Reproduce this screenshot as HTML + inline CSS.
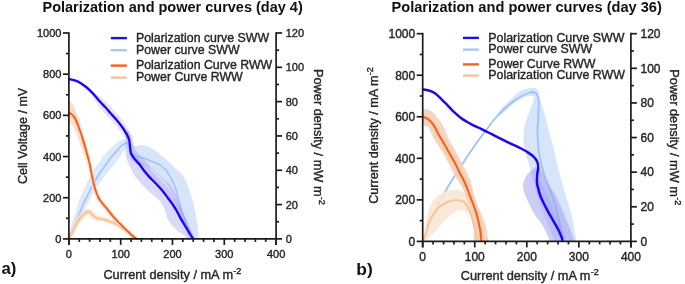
<!DOCTYPE html>
<html><head><meta charset="utf-8"><style>
html,body{margin:0;padding:0;background:#fff;}
svg{display:block;font-family:'Liberation Sans', sans-serif;filter:blur(0.35px);}
text{stroke:#262626;stroke-width:0.38px;}
text[font-weight]{stroke:none;}
</style></head><body>
<svg width="685" height="284" viewBox="0 0 685 284">
<rect width="685" height="284" fill="#fff"/>
<defs><clipPath id="cl"><rect x="67.9" y="30" width="209" height="209.7"/></clipPath><clipPath id="cr"><rect x="421.7" y="30" width="210" height="212.2"/></clipPath></defs>
<g clip-path="url(#cl)"><path d="M114.00,147.00 C115.07,146.08 118.53,142.67 120.40,141.50 C122.27,140.33 123.93,140.08 125.20,140.00 C126.47,139.92 127.20,140.33 128.00,141.00 C128.80,141.67 129.13,143.23 130.00,144.00 C130.87,144.77 132.15,145.27 133.20,145.60 C134.25,145.93 135.07,146.05 136.30,146.00 C137.53,145.95 139.02,145.33 140.60,145.30 C142.18,145.27 144.05,145.37 145.80,145.80 C147.55,146.23 149.33,146.93 151.10,147.90 C152.87,148.87 154.63,150.28 156.40,151.60 C158.17,152.92 159.95,154.38 161.70,155.80 C163.45,157.22 165.42,158.78 166.90,160.10 C168.38,161.42 169.12,162.30 170.60,163.70 C172.08,165.10 174.05,166.92 175.80,168.50 C177.55,170.08 179.68,171.62 181.10,173.20 C182.52,174.78 183.25,176.15 184.30,178.00 C185.35,179.85 186.35,181.67 187.40,184.30 C188.45,186.93 189.53,190.28 190.60,193.80 C191.67,197.32 192.73,200.70 193.80,205.40 C194.87,210.10 196.13,216.65 197.00,222.00 C197.87,227.35 198.67,234.68 199.00,237.50 C199.33,240.32 199.00,238.67 199.00,238.90 L188.00,238.90 C187.33,236.75 185.50,230.48 184.00,226.00 C182.50,221.52 180.67,216.67 179.00,212.00 C177.33,207.33 175.83,202.33 174.00,198.00 C172.17,193.67 170.17,189.50 168.00,186.00 C165.83,182.50 163.50,179.67 161.00,177.00 C158.50,174.33 155.67,171.83 153.00,170.00 C150.33,168.17 147.50,167.00 145.00,166.00 C142.50,165.00 140.17,164.83 138.00,164.00 C135.83,163.17 133.67,163.00 132.00,161.00 C130.33,159.00 128.88,154.17 128.00,152.00 C127.12,149.83 127.97,148.00 126.70,148.00 C125.43,148.00 122.52,150.67 120.40,152.00 C118.28,153.33 115.07,155.33 114.00,156.00 Z" fill="#d7e5fa" fill-opacity="1.0" stroke="none"/>
<path d="M68.74,237.50 C69.24,235.30 70.70,228.24 71.74,224.32 C72.78,220.40 73.98,217.38 74.99,214.00 C76.00,210.61 76.72,207.17 77.81,204.01 C78.91,200.86 80.34,197.95 81.56,195.08 C82.79,192.20 83.96,189.45 85.17,186.75 C86.38,184.05 87.62,181.36 88.80,178.87 C89.99,176.37 91.02,173.94 92.26,171.79 C93.51,169.64 94.94,167.85 96.29,165.95 C97.64,164.05 98.98,162.25 100.34,160.38 C101.70,158.52 102.99,156.51 104.43,154.76 C105.87,153.01 107.59,151.31 108.97,149.88 C110.35,148.46 111.43,147.41 112.72,146.21 C114.00,145.02 115.25,143.82 116.69,142.74 C118.14,141.65 119.89,140.37 121.40,139.73 C122.91,139.09 125.01,139.05 125.74,138.92 L128.86,146.28 C128.49,146.61 127.39,147.51 126.60,148.27 C125.81,149.03 124.92,149.88 124.11,150.86 C123.29,151.85 122.53,152.98 121.68,154.19 C120.84,155.39 120.12,156.66 119.03,158.12 C117.95,159.57 116.47,161.24 115.17,162.94 C113.87,164.64 112.64,166.57 111.26,168.32 C109.88,170.08 108.29,171.79 106.89,173.47 C105.50,175.15 104.23,176.61 102.86,178.41 C101.50,180.22 100.14,182.14 98.71,184.31 C97.27,186.48 95.70,188.95 94.23,191.43 C92.77,193.90 91.38,196.53 89.91,199.17 C88.44,201.82 86.86,204.42 85.43,207.31 C83.99,210.21 82.81,213.39 81.30,216.55 C79.78,219.71 78.28,222.73 76.34,226.29 C74.40,229.84 70.77,235.96 69.66,237.90 Z" fill="#dce8fb" fill-opacity="1.0" stroke="none"/>
<path d="M69.20,237.70 C70.08,235.67 72.92,229.20 74.50,225.50 C76.08,221.80 77.38,218.75 78.70,215.50 C80.02,212.25 81.10,209.00 82.40,206.00 C83.70,203.00 85.15,200.25 86.50,197.50 C87.85,194.75 89.17,192.08 90.50,189.50 C91.83,186.92 93.22,184.33 94.50,182.00 C95.78,179.67 96.95,177.50 98.20,175.50 C99.45,173.50 100.70,171.83 102.00,170.00 C103.30,168.17 104.67,166.33 106.00,164.50 C107.33,162.67 108.67,160.75 110.00,159.00 C111.33,157.25 112.80,155.47 114.00,154.00 C115.20,152.53 116.13,151.40 117.20,150.20 C118.27,149.00 119.27,147.83 120.40,146.80 C121.53,145.77 122.85,144.70 124.00,144.00 C125.15,143.30 126.38,142.18 127.30,142.60 C128.22,143.02 128.80,144.93 129.50,146.50 C130.20,148.07 130.53,150.42 131.50,152.00 C132.47,153.58 133.78,155.10 135.30,156.00 C136.82,156.90 138.85,156.90 140.60,157.40 C142.35,157.90 144.05,158.38 145.80,159.00 C147.55,159.62 149.33,160.40 151.10,161.10 C152.87,161.80 154.72,162.38 156.40,163.20 C158.08,164.02 159.90,165.12 161.20,166.00 C162.50,166.88 163.17,167.50 164.20,168.50 C165.23,169.50 166.33,170.52 167.40,172.00 C168.47,173.48 169.75,175.90 170.60,177.40 C171.45,178.90 171.85,179.73 172.50,181.00 C173.15,182.27 173.85,183.38 174.50,185.00 C175.15,186.62 175.83,188.70 176.40,190.70 C176.97,192.70 177.38,194.90 177.90,197.00 C178.42,199.10 178.78,200.65 179.50,203.30 C180.22,205.95 180.87,209.25 182.20,212.90 C183.53,216.55 185.73,221.35 187.50,225.20 C189.27,229.05 191.80,233.72 192.80,236.00 C193.80,238.28 193.38,238.42 193.50,238.90" fill="none" stroke="#9fc0f8" stroke-width="1.5" stroke-linejoin="round" stroke-linecap="round"/>
<path d="M91.77,91.47 C92.79,92.12 95.97,94.05 97.88,95.36 C99.80,96.66 101.41,97.78 103.25,99.30 C105.09,100.82 107.10,102.60 108.92,104.47 C110.74,106.34 112.39,108.50 114.17,110.52 C115.95,112.54 118.00,114.61 119.61,116.57 C121.23,118.53 122.47,120.22 123.86,122.28 C125.26,124.35 126.96,126.95 128.00,128.95 C129.04,130.95 129.59,132.57 130.10,134.28 C130.60,136.00 130.89,138.42 131.05,139.24 L127.35,140.76 C126.91,140.12 125.66,138.20 124.70,136.92 C123.75,135.63 122.86,134.65 121.60,133.05 C120.34,131.45 118.61,129.08 117.14,127.32 C115.67,125.55 114.40,124.24 112.79,122.43 C111.17,120.63 109.18,118.46 107.43,116.48 C105.68,114.50 103.96,112.50 102.28,110.53 C100.60,108.57 98.71,106.68 97.35,104.70 C95.99,102.72 95.17,100.74 94.12,98.64 C93.06,96.55 91.54,93.22 91.03,92.13 Z" fill="#e4e5fd" fill-opacity="1.0" stroke="none"/>
<path d="M129.00,131.00 C129.50,131.83 131.25,134.00 132.00,136.00 C132.75,138.00 133.00,140.83 133.50,143.00 C134.00,145.17 133.92,147.00 135.00,149.00 C136.08,151.00 138.00,152.67 140.00,155.00 C142.00,157.33 144.67,160.50 147.00,163.00 C149.33,165.50 151.83,168.00 154.00,170.00 C156.17,172.00 158.17,173.33 160.00,175.00 C161.83,176.67 163.33,178.50 165.00,180.00 C166.67,181.50 168.50,182.33 170.00,184.00 C171.50,185.67 172.83,187.83 174.00,190.00 C175.17,192.17 175.83,194.33 177.00,197.00 C178.17,199.67 179.50,202.50 181.00,206.00 C182.50,209.50 184.50,214.33 186.00,218.00 C187.50,221.67 188.67,224.52 190.00,228.00 C191.33,231.48 193.33,237.08 194.00,238.90 L189.00,238.90 C187.83,238.08 184.33,235.70 182.00,234.00 C179.67,232.30 177.30,231.05 175.00,228.70 C172.70,226.35 169.93,223.12 168.20,219.90 C166.47,216.68 166.07,212.62 164.60,209.40 C163.13,206.18 161.65,203.25 159.40,200.60 C157.15,197.95 153.37,195.57 151.10,193.50 C148.83,191.43 147.55,189.95 145.80,188.20 C144.05,186.45 142.35,184.93 140.60,183.00 C138.85,181.07 137.07,179.27 135.30,176.60 C133.53,173.93 131.47,170.10 130.00,167.00 C128.53,163.90 127.25,160.83 126.50,158.00 C125.75,155.17 125.67,152.50 125.50,150.00 C125.33,147.50 125.58,145.17 125.50,143.00 C125.42,140.83 124.92,138.83 125.00,137.00 C125.08,135.17 125.83,132.83 126.00,132.00 Z" fill="#9c9cf2" fill-opacity="0.38" stroke="none"/>
<path d="M136.00,157.00 C137.00,157.83 140.00,160.25 142.00,162.00 C144.00,163.75 145.83,165.42 148.00,167.50 C150.17,169.58 152.67,172.17 155.00,174.50 C157.33,176.83 159.83,179.17 162.00,181.50 C164.17,183.83 166.17,186.17 168.00,188.50 C169.83,190.83 171.42,193.08 173.00,195.50 C174.58,197.92 176.08,200.42 177.50,203.00 C178.92,205.58 180.25,208.17 181.50,211.00 C182.75,213.83 183.83,217.00 185.00,220.00 C186.17,223.00 187.17,225.85 188.50,229.00 C189.83,232.15 192.25,237.25 193.00,238.90 L192.80,238.90 C191.67,237.00 188.05,230.90 186.00,227.50 C183.95,224.10 182.08,221.28 180.50,218.50 C178.92,215.72 177.80,213.08 176.50,210.80 C175.20,208.52 174.07,206.80 172.70,204.80 C171.33,202.80 169.72,200.72 168.30,198.80 C166.88,196.88 165.65,195.13 164.20,193.30 C162.75,191.47 161.25,189.65 159.60,187.80 C157.95,185.95 156.07,184.00 154.30,182.20 C152.53,180.40 150.77,178.93 149.00,177.00 C147.23,175.07 145.27,172.63 143.70,170.60 C142.13,168.57 141.05,166.57 139.60,164.80 C138.15,163.03 135.77,160.80 135.00,160.00 Z" fill="#9c9cf2" fill-opacity="0.3" stroke="none"/>
<path d="M67.50,101.50 C67.92,101.55 69.18,101.45 70.00,101.80 C70.82,102.15 71.70,102.82 72.40,103.60 C73.10,104.38 73.63,105.30 74.20,106.50 C74.77,107.70 75.28,109.30 75.80,110.80 C76.32,112.30 76.80,113.92 77.30,115.50 C77.80,117.08 78.30,118.63 78.80,120.30 C79.30,121.97 79.78,123.78 80.30,125.50 C80.82,127.22 81.37,129.02 81.90,130.60 C82.43,132.18 82.98,133.52 83.50,135.00 C84.02,136.48 84.50,138.00 85.00,139.50 C85.50,141.00 86.03,142.50 86.50,144.00 C86.97,145.50 87.38,147.00 87.80,148.50 C88.22,150.00 88.60,151.42 89.00,153.00 C89.40,154.58 89.82,156.33 90.20,158.00 C90.58,159.67 90.93,161.25 91.30,163.00 C91.67,164.75 92.03,166.67 92.40,168.50 C92.77,170.33 93.13,172.17 93.50,174.00 C93.87,175.83 94.22,177.67 94.60,179.50 C94.98,181.33 95.33,183.25 95.80,185.00 C96.27,186.75 96.78,188.33 97.40,190.00 C98.02,191.67 98.68,193.42 99.50,195.00 C100.32,196.58 101.30,198.08 102.30,199.50 C103.30,200.92 104.38,202.17 105.50,203.50 C106.62,204.83 107.92,206.08 109.00,207.50 C110.08,208.92 110.50,210.00 112.00,212.00 C113.50,214.00 115.92,217.00 118.00,219.50 C120.08,222.00 122.33,224.58 124.50,227.00 C126.67,229.42 129.00,232.02 131.00,234.00 C133.00,235.98 135.58,238.08 136.50,238.90 L135.00,239.50 C134.33,239.25 132.75,239.17 131.00,238.00 C129.25,236.83 126.67,234.42 124.50,232.50 C122.33,230.58 120.17,228.83 118.00,226.50 C115.83,224.17 113.67,221.17 111.50,218.50 C109.33,215.83 106.75,212.58 105.00,210.50 C103.25,208.42 102.25,207.58 101.00,206.00 C99.75,204.42 98.58,202.83 97.50,201.00 C96.42,199.17 95.38,197.17 94.50,195.00 C93.62,192.83 92.78,189.83 92.20,188.00 C91.62,186.17 91.38,185.92 91.00,184.00 C90.62,182.08 90.37,179.08 89.90,176.50 C89.43,173.92 88.82,171.00 88.20,168.50 C87.58,166.00 86.98,163.92 86.20,161.50 C85.42,159.08 84.53,156.92 83.50,154.00 C82.47,151.08 81.08,147.08 80.00,144.00 C78.92,140.92 78.08,138.33 77.00,135.50 C75.92,132.67 74.42,128.92 73.50,127.00 C72.58,125.08 72.08,124.83 71.50,124.00 C70.92,123.17 70.67,122.50 70.00,122.00 C69.33,121.50 67.92,121.17 67.50,121.00 Z" fill="#f9dfcc" fill-opacity="0.9" stroke="none"/>
<path d="M71.06,109.36 C71.50,109.60 72.83,110.08 73.72,110.82 C74.61,111.55 75.56,112.58 76.39,113.76 C77.23,114.94 78.03,116.29 78.72,117.91 C79.40,119.52 79.76,121.04 80.50,123.42 C81.24,125.80 82.35,129.27 83.17,132.19 C83.99,135.11 84.60,137.61 85.42,140.93 C86.23,144.25 87.34,148.96 88.04,152.09 C88.75,155.23 89.39,158.46 89.66,159.73 L87.74,160.27 C87.31,159.04 86.18,155.94 85.16,152.91 C84.13,149.87 82.66,145.27 81.58,142.07 C80.51,138.87 79.75,136.49 78.72,133.71 C77.68,130.93 76.33,127.54 75.37,125.40 C74.40,123.26 73.65,122.11 72.93,120.87 C72.21,119.63 71.61,118.69 71.04,117.95 C70.46,117.20 70.02,116.78 69.48,116.39 C68.94,115.99 68.09,115.70 67.81,115.56 Z" fill="#f4c6a6" fill-opacity="0.35" stroke="none"/>
<path d="M68.75,238.47 C69.06,237.32 69.82,233.93 70.60,231.54 C71.37,229.14 72.27,226.53 73.40,224.11 C74.54,221.68 75.99,219.09 77.39,217.01 C78.80,214.93 80.34,213.00 81.85,211.63 C83.36,210.26 84.86,209.13 86.46,208.77 C88.05,208.41 90.08,208.81 91.42,209.47 C92.76,210.14 93.45,211.76 94.50,212.77 C95.56,213.77 96.69,214.91 97.74,215.49 C98.79,216.07 99.29,215.88 100.79,216.27 C102.28,216.65 104.57,217.12 106.71,217.80 C108.85,218.49 111.39,219.34 113.61,220.39 C115.83,221.43 117.88,222.72 120.02,224.08 C122.15,225.43 124.35,226.94 126.42,228.52 C128.48,230.09 130.51,231.87 132.41,233.53 C134.31,235.20 136.90,237.67 137.80,238.50 L137.20,239.30 C136.16,238.66 133.12,236.77 130.99,235.47 C128.85,234.16 126.55,232.81 124.38,231.48 C122.22,230.16 120.08,228.67 117.98,227.52 C115.88,226.38 113.91,225.43 111.79,224.61 C109.67,223.79 107.32,223.14 105.29,222.60 C103.26,222.05 101.29,221.68 99.61,221.33 C97.94,220.99 96.78,221.19 95.26,220.51 C93.74,219.83 91.68,218.23 90.50,217.23 C89.32,216.24 88.51,214.93 88.18,214.53 C87.86,214.13 88.88,214.52 88.54,214.83 C88.20,215.13 87.21,215.41 86.15,216.37 C85.10,217.33 83.60,218.90 82.21,220.59 C80.81,222.28 79.13,224.38 77.80,226.49 C76.46,228.61 75.56,231.19 74.20,233.26 C72.85,235.33 70.41,237.98 69.65,238.93 Z" fill="#f8e2cc" fill-opacity="0.85" stroke="none"/>
<path d="M69.20,238.70 C69.73,237.65 71.33,234.63 72.40,232.40 C73.47,230.17 74.37,227.57 75.60,225.30 C76.83,223.03 78.40,220.68 79.80,218.80 C81.20,216.92 82.72,215.17 84.00,214.00 C85.28,212.83 86.53,212.13 87.50,211.80 C88.47,211.47 88.97,211.47 89.80,212.00 C90.63,212.53 91.38,214.00 92.50,215.00 C93.62,216.00 95.22,217.37 96.50,218.00 C97.78,218.63 98.62,218.43 100.20,218.80 C101.78,219.17 103.92,219.58 106.00,220.20 C108.08,220.82 110.53,221.57 112.70,222.50 C114.87,223.43 116.88,224.55 119.00,225.80 C121.12,227.05 123.28,228.55 125.40,230.00 C127.52,231.45 129.68,233.02 131.70,234.50 C133.72,235.98 136.53,238.17 137.50,238.90" fill="none" stroke="#f2c69c" stroke-width="2.0" stroke-linejoin="round" stroke-linecap="round"/>
<path d="M69.20,112.90 C69.55,113.08 70.60,113.47 71.30,114.00 C72.00,114.53 72.68,115.18 73.40,116.10 C74.12,117.02 74.88,118.10 75.60,119.50 C76.32,120.90 76.83,122.25 77.70,124.50 C78.57,126.75 79.83,130.17 80.80,133.00 C81.77,135.83 82.53,138.25 83.50,141.50 C84.47,144.75 85.73,149.42 86.60,152.50 C87.47,155.58 88.08,157.58 88.70,160.00 C89.32,162.42 89.77,164.42 90.30,167.00 C90.83,169.58 91.38,172.92 91.90,175.50 C92.42,178.08 92.93,180.50 93.40,182.50 C93.87,184.50 94.22,185.83 94.70,187.50 C95.18,189.17 95.70,190.88 96.30,192.50 C96.90,194.12 97.55,195.73 98.30,197.20 C99.05,198.67 99.85,199.95 100.80,201.30 C101.75,202.65 102.88,203.97 104.00,205.30 C105.12,206.63 106.07,207.55 107.50,209.30 C108.93,211.05 110.58,213.48 112.60,215.80 C114.62,218.12 117.25,220.80 119.60,223.20 C121.95,225.60 124.35,227.90 126.70,230.20 C129.05,232.50 132.07,235.55 133.70,237.00 C135.33,238.45 136.03,238.58 136.50,238.90" fill="none" stroke="#f0601e" stroke-width="1.9" stroke-linejoin="round" stroke-linecap="round"/>
<path d="M69.20,79.00 C70.27,79.27 73.67,79.90 75.60,80.60 C77.53,81.30 79.05,82.13 80.80,83.20 C82.55,84.27 84.33,85.57 86.10,87.00 C87.87,88.43 89.75,90.13 91.40,91.80 C93.05,93.47 94.52,95.30 96.00,97.00 C97.48,98.70 98.70,100.25 100.30,102.00 C101.90,103.75 103.85,105.58 105.60,107.50 C107.35,109.42 109.03,111.50 110.80,113.50 C112.57,115.50 114.58,117.62 116.20,119.50 C117.82,121.38 119.07,122.88 120.50,124.80 C121.93,126.72 123.65,129.20 124.80,131.00 C125.95,132.80 126.67,134.10 127.40,135.60 C128.13,137.10 128.78,138.38 129.20,140.00 C129.62,141.62 129.70,143.58 129.90,145.30 C130.10,147.02 130.15,148.80 130.40,150.30 C130.65,151.80 130.70,152.85 131.40,154.30 C132.10,155.75 133.23,157.30 134.60,159.00 C135.97,160.70 138.08,162.62 139.60,164.50 C141.12,166.38 142.13,168.28 143.70,170.30 C145.27,172.32 147.23,174.67 149.00,176.60 C150.77,178.53 152.53,180.08 154.30,181.90 C156.07,183.72 157.95,185.65 159.60,187.50 C161.25,189.35 162.75,191.17 164.20,193.00 C165.65,194.83 166.88,196.58 168.30,198.50 C169.72,200.42 171.33,202.50 172.70,204.50 C174.07,206.50 175.20,208.22 176.50,210.50 C177.80,212.78 178.95,215.45 180.50,218.20 C182.05,220.95 184.22,224.37 185.80,227.00 C187.38,229.63 188.83,232.08 190.00,234.00 C191.17,235.92 192.33,237.75 192.80,238.50" fill="none" stroke="#2000ff" stroke-width="2.35" stroke-linejoin="round" stroke-linecap="round"/></g>
<g clip-path="url(#cr)"><path d="M500.00,110.00 C501.00,109.00 504.08,105.83 506.00,104.00 C507.92,102.17 509.82,100.67 511.50,99.00 C513.18,97.33 514.15,95.50 516.10,94.00 C518.05,92.50 520.85,91.00 523.20,90.00 C525.55,89.00 528.22,88.33 530.20,88.00 C532.18,87.67 533.80,87.57 535.10,88.00 C536.40,88.43 537.18,88.77 538.00,90.60 C538.82,92.43 538.83,94.93 540.00,99.00 C541.17,103.07 543.58,109.83 545.00,115.00 C546.42,120.17 547.08,124.50 548.50,130.00 C549.92,135.50 552.08,142.50 553.50,148.00 C554.92,153.50 555.92,158.50 557.00,163.00 C558.08,167.50 558.67,170.00 560.00,175.00 C561.33,180.00 563.58,188.00 565.00,193.00 C566.42,198.00 567.33,201.00 568.50,205.00 C569.67,209.00 570.92,212.33 572.00,217.00 C573.08,221.67 574.30,228.93 575.00,233.00 C575.70,237.07 576.00,240.00 576.20,241.40 L555.00,241.40 C553.83,238.67 550.17,230.23 548.00,225.00 C545.83,219.77 543.83,215.00 542.00,210.00 C540.17,205.00 538.50,200.00 537.00,195.00 C535.50,190.00 534.33,185.00 533.00,180.00 C531.67,175.00 530.25,169.67 529.00,165.00 C527.75,160.33 526.42,156.17 525.50,152.00 C524.58,147.83 523.75,144.00 523.50,140.00 C523.25,136.00 523.42,131.67 524.00,128.00 C524.58,124.33 525.83,121.33 527.00,118.00 C528.17,114.67 529.83,111.17 531.00,108.00 C532.17,104.83 533.67,101.00 534.00,99.00 C534.33,97.00 534.00,96.50 533.00,96.00 C532.00,95.50 529.83,95.58 528.00,96.00 C526.17,96.42 523.92,97.58 522.00,98.50 C520.08,99.42 518.33,100.25 516.50,101.50 C514.67,102.75 512.92,104.33 511.00,106.00 C509.08,107.67 506.83,109.83 505.00,111.50 C503.17,113.17 500.83,115.25 500.00,116.00 Z" fill="#d7e5fa" fill-opacity="1.0" stroke="none"/>
<path d="M422.70,241.40 C423.92,238.50 427.28,230.23 430.00,224.00 C432.72,217.77 436.08,210.08 439.00,204.00 C441.92,197.92 444.83,192.25 447.50,187.50 C450.17,182.75 452.47,179.50 455.00,175.50 C457.53,171.50 460.12,167.45 462.70,163.50 C465.28,159.55 467.87,155.67 470.50,151.80 C473.13,147.93 475.83,144.02 478.50,140.30 C481.17,136.58 483.75,133.13 486.50,129.50 C489.25,125.87 492.25,121.75 495.00,118.50 C497.75,115.25 500.25,112.62 503.00,110.00 C505.75,107.38 508.67,104.97 511.50,102.80 C514.33,100.63 517.17,98.63 520.00,97.00 C522.83,95.37 526.33,93.83 528.50,93.00 C530.67,92.17 531.70,91.95 533.00,92.00 C534.30,92.05 535.45,92.42 536.30,93.30 C537.15,94.18 537.70,95.68 538.10,97.30 C538.50,98.92 538.67,99.88 538.70,103.00 C538.73,106.12 538.52,111.50 538.30,116.00 C538.08,120.50 537.48,126.00 537.40,130.00 C537.32,134.00 537.62,136.67 537.80,140.00 C537.98,143.33 538.00,146.38 538.50,150.00 C539.00,153.62 539.98,158.00 540.80,161.70 C541.62,165.40 542.37,168.82 543.40,172.20 C544.43,175.58 545.82,178.87 547.00,182.00 C548.18,185.13 549.42,188.00 550.50,191.00 C551.58,194.00 552.50,196.83 553.50,200.00 C554.50,203.17 555.58,206.67 556.50,210.00 C557.42,213.33 558.25,216.67 559.00,220.00 C559.75,223.33 560.50,227.00 561.00,230.00 C561.50,233.00 561.78,236.10 562.00,238.00 C562.22,239.90 562.25,240.83 562.30,241.40" fill="none" stroke="#9fc0f8" stroke-width="1.8" stroke-linejoin="round" stroke-linecap="round"/>
<path d="M533.80,168.00 C534.50,167.83 536.63,166.33 538.00,167.00 C539.37,167.67 540.67,169.83 542.00,172.00 C543.33,174.17 544.50,177.33 546.00,180.00 C547.50,182.67 549.33,185.33 551.00,188.00 C552.67,190.67 554.33,192.83 556.00,196.00 C557.67,199.17 559.33,203.17 561.00,207.00 C562.67,210.83 564.42,215.17 566.00,219.00 C567.58,222.83 569.25,226.83 570.50,230.00 C571.75,233.17 572.83,236.10 573.50,238.00 C574.17,239.90 574.33,240.83 574.50,241.40 L550.00,241.40 C549.50,240.22 548.32,237.13 547.00,234.30 C545.68,231.47 544.15,227.70 542.10,224.40 C540.05,221.10 537.17,218.57 534.70,214.50 C532.23,210.43 529.18,204.08 527.30,200.00 C525.42,195.92 524.03,193.00 523.40,190.00 C522.77,187.00 522.83,184.67 523.50,182.00 C524.17,179.33 526.75,175.33 527.40,174.00 Z" fill="#9c9cf2" fill-opacity="0.5" stroke="none"/>
<path d="M540.00,180.00 C540.83,181.67 543.33,186.67 545.00,190.00 C546.67,193.33 548.33,196.50 550.00,200.00 C551.67,203.50 553.33,207.33 555.00,211.00 C556.67,214.67 558.50,218.50 560.00,222.00 C561.50,225.50 562.92,228.77 564.00,232.00 C565.08,235.23 566.08,239.83 566.50,241.40 L561.00,241.40 C560.33,239.83 558.50,235.23 557.00,232.00 C555.50,228.77 553.83,225.50 552.00,222.00 C550.17,218.50 547.75,214.67 546.00,211.00 C544.25,207.33 542.75,203.50 541.50,200.00 C540.25,196.50 539.17,193.00 538.50,190.00 C537.83,187.00 537.67,183.33 537.50,182.00 Z" fill="#9c9cf2" fill-opacity="0.3" stroke="none"/>
<path d="M422.90,240.00 C423.33,237.17 424.42,228.33 425.50,223.00 C426.58,217.67 428.15,211.67 429.40,208.00 C430.65,204.33 431.85,202.75 433.00,201.00 C434.15,199.25 434.97,198.67 436.30,197.50 C437.63,196.33 439.47,195.00 441.00,194.00 C442.53,193.00 444.00,192.13 445.50,191.50 C447.00,190.87 448.48,190.52 450.00,190.20 C451.52,189.88 453.05,189.60 454.60,189.60 C456.15,189.60 457.77,189.83 459.30,190.20 C460.83,190.57 462.52,191.00 463.80,191.80 C465.08,192.60 466.47,194.47 467.00,195.00 L469.00,222.00 C468.67,220.67 467.83,215.83 467.00,214.00 C466.17,212.17 465.50,211.57 464.00,211.00 C462.50,210.43 460.00,210.10 458.00,210.60 C456.00,211.10 453.97,212.58 452.00,214.00 C450.03,215.42 448.03,217.35 446.20,219.10 C444.37,220.85 442.65,222.62 441.00,224.50 C439.35,226.38 437.97,228.57 436.30,230.40 C434.63,232.23 432.63,233.87 431.00,235.50 C429.37,237.13 427.25,239.42 426.50,240.20 Z" fill="#f9e7d4" fill-opacity="0.9" stroke="none"/>
<path d="M422.70,108.70 C423.68,108.87 426.75,108.92 428.60,109.70 C430.45,110.48 432.05,111.72 433.80,113.40 C435.55,115.08 437.33,117.33 439.10,119.80 C440.87,122.27 442.82,125.10 444.40,128.20 C445.98,131.30 447.02,135.12 448.60,138.40 C450.18,141.68 452.33,145.08 453.90,147.90 C455.47,150.72 456.53,152.53 458.00,155.30 C459.47,158.07 461.22,161.57 462.70,164.50 C464.18,167.43 465.68,170.43 466.90,172.90 C468.12,175.37 469.07,176.78 470.00,179.30 C470.93,181.82 471.48,184.28 472.50,188.00 C473.52,191.72 474.70,197.40 476.10,201.60 C477.50,205.80 479.33,209.33 480.90,213.20 C482.47,217.07 484.32,220.62 485.50,224.80 C486.68,228.98 487.50,235.53 488.00,238.30 C488.50,241.07 488.42,240.88 488.50,241.40 L473.50,241.40 C473.52,239.27 473.82,232.33 473.60,228.60 C473.38,224.87 473.07,222.85 472.20,219.00 C471.33,215.15 469.85,210.33 468.40,205.50 C466.95,200.67 464.97,193.75 463.50,190.00 C462.03,186.25 460.78,184.97 459.60,183.00 C458.42,181.03 457.98,180.93 456.40,178.20 C454.82,175.47 452.13,170.47 450.10,166.60 C448.07,162.73 445.85,157.93 444.20,155.00 C442.55,152.07 441.75,151.40 440.20,149.00 C438.65,146.60 436.43,143.27 434.90,140.60 C433.37,137.93 432.05,135.13 431.00,133.00 C429.95,130.87 429.52,128.97 428.60,127.80 C427.68,126.63 426.48,126.47 425.50,126.00 C424.52,125.53 423.17,125.17 422.70,125.00 Z" fill="#f5cfb3" fill-opacity="0.85" stroke="none"/>
<path d="M423.90,113.62 C424.60,113.89 426.56,114.36 428.09,115.25 C429.63,116.15 431.68,117.58 433.10,119.00 C434.53,120.41 435.62,122.18 436.65,123.74 C437.68,125.31 438.47,126.87 439.29,128.39 C440.11,129.90 440.76,131.40 441.57,132.85 C442.38,134.30 442.82,134.84 444.13,137.08 C445.45,139.33 447.77,143.36 449.45,146.31 C451.14,149.27 452.78,152.21 454.26,154.83 C455.74,157.45 456.92,159.34 458.32,162.03 C459.71,164.72 461.21,168.14 462.64,170.97 C464.06,173.81 465.52,176.17 466.88,179.05 C468.23,181.93 469.54,185.20 470.76,188.24 C471.97,191.28 473.04,194.27 474.18,197.30 C475.32,200.33 476.52,203.18 477.62,206.40 C478.72,209.62 479.87,213.14 480.79,216.63 C481.71,220.13 482.54,224.20 483.14,227.37 C483.74,230.53 484.12,233.31 484.38,235.62 C484.64,237.93 484.64,240.28 484.69,241.21 L477.91,241.59 C477.86,240.72 477.86,238.54 477.62,236.38 C477.38,234.22 477.03,231.63 476.46,228.63 C475.89,225.63 475.09,221.70 474.21,218.37 C473.33,215.03 472.25,211.71 471.18,208.60 C470.12,205.49 468.94,202.67 467.82,199.70 C466.70,196.73 465.63,193.72 464.44,190.76 C463.26,187.80 462.04,184.74 460.72,181.95 C459.41,179.16 457.97,176.82 456.56,174.03 C455.16,171.23 453.65,167.81 452.28,165.17 C450.91,162.52 449.79,160.75 448.34,158.17 C446.88,155.59 445.23,152.63 443.55,149.69 C441.87,146.74 439.59,142.77 438.27,140.52 C436.95,138.26 436.46,137.64 435.63,136.15 C434.80,134.67 434.09,133.06 433.31,131.61 C432.53,130.16 431.79,128.76 430.95,127.46 C430.12,126.15 429.34,124.86 428.30,123.80 C427.25,122.75 425.84,121.78 424.71,121.15 C423.57,120.51 422.03,120.17 421.50,119.98 Z" fill="#f4c6a6" fill-opacity="0.4" stroke="none"/>
<path d="M422.90,240.90 C423.42,239.58 424.92,236.23 426.00,233.00 C427.08,229.77 428.32,224.42 429.40,221.50 C430.48,218.58 431.35,217.42 432.50,215.50 C433.65,213.58 434.88,211.67 436.30,210.00 C437.72,208.33 439.47,206.67 441.00,205.50 C442.53,204.33 444.00,203.70 445.50,203.00 C447.00,202.30 448.48,201.75 450.00,201.30 C451.52,200.85 453.27,200.48 454.60,200.30 C455.93,200.12 456.85,200.13 458.00,200.20 C459.15,200.27 460.25,200.15 461.50,200.70 C462.75,201.25 464.25,202.03 465.50,203.50 C466.75,204.97 467.92,207.08 469.00,209.50 C470.08,211.92 471.08,215.00 472.00,218.00 C472.92,221.00 473.75,224.50 474.50,227.50 C475.25,230.50 476.00,233.68 476.50,236.00 C477.00,238.32 477.33,240.50 477.50,241.40" fill="none" stroke="#f2c69c" stroke-width="2.0" stroke-linejoin="round" stroke-linecap="round"/>
<path d="M422.70,116.80 C423.32,117.03 425.07,117.43 426.40,118.20 C427.73,118.97 429.47,120.17 430.70,121.40 C431.93,122.63 432.87,124.17 433.80,125.60 C434.73,127.03 435.50,128.52 436.30,130.00 C437.10,131.48 437.78,133.03 438.60,134.50 C439.42,135.97 439.88,136.55 441.20,138.80 C442.52,141.05 444.82,145.05 446.50,148.00 C448.18,150.95 449.83,153.90 451.30,156.50 C452.77,159.10 453.92,160.93 455.30,163.60 C456.68,166.27 458.18,169.68 459.60,172.50 C461.02,175.32 462.47,177.67 463.80,180.50 C465.13,183.33 466.40,186.50 467.60,189.50 C468.80,192.50 469.87,195.50 471.00,198.50 C472.13,201.50 473.32,204.33 474.40,207.50 C475.48,210.67 476.60,214.08 477.50,217.50 C478.40,220.92 479.22,224.92 479.80,228.00 C480.38,231.08 480.75,233.77 481.00,236.00 C481.25,238.23 481.25,240.50 481.30,241.40" fill="none" stroke="#f0601e" stroke-width="2.0" stroke-linejoin="round" stroke-linecap="round"/>
<path d="M422.70,89.50 C423.32,89.58 425.07,89.73 426.40,90.00 C427.73,90.27 429.28,90.57 430.70,91.10 C432.12,91.63 433.50,92.23 434.90,93.20 C436.30,94.17 437.70,95.58 439.10,96.90 C440.50,98.22 441.88,99.70 443.30,101.10 C444.72,102.50 446.18,103.85 447.60,105.30 C449.02,106.75 450.47,108.45 451.80,109.80 C453.13,111.15 454.02,111.98 455.60,113.40 C457.18,114.82 459.42,116.90 461.30,118.30 C463.18,119.70 465.03,120.72 466.90,121.80 C468.77,122.88 470.62,123.85 472.50,124.80 C474.38,125.75 476.32,126.58 478.20,127.50 C480.08,128.42 481.93,129.38 483.80,130.30 C485.67,131.22 487.53,132.08 489.40,133.00 C491.27,133.92 493.23,134.92 495.00,135.80 C496.77,136.68 498.00,137.30 500.00,138.30 C502.00,139.30 504.67,140.65 507.00,141.80 C509.33,142.95 511.65,144.08 514.00,145.20 C516.35,146.32 518.73,147.27 521.10,148.50 C523.47,149.73 526.08,151.22 528.20,152.60 C530.32,153.98 532.30,155.27 533.80,156.80 C535.30,158.33 536.47,160.05 537.20,161.80 C537.93,163.55 538.17,165.43 538.20,167.30 C538.23,169.17 537.60,171.22 537.40,173.00 C537.20,174.78 537.07,176.33 537.00,178.00 C536.93,179.67 536.78,181.17 537.00,183.00 C537.22,184.83 537.65,186.63 538.30,189.00 C538.95,191.37 539.45,193.77 540.90,197.20 C542.35,200.63 544.95,205.68 547.00,209.60 C549.05,213.52 551.35,217.42 553.20,220.70 C555.05,223.98 556.65,226.42 558.10,229.30 C559.55,232.18 561.20,236.05 561.90,238.00 C562.60,239.95 562.23,240.50 562.30,241.00" fill="none" stroke="#2000ff" stroke-width="2.45" stroke-linejoin="round" stroke-linecap="round"/></g>
<g font-size="11" fill="#262626"><line x1="68.9" y1="32.15" x2="68.9" y2="244.9" stroke="#1c1c1c" stroke-width="1.7"/><line x1="276.1" y1="32.15" x2="276.1" y2="244.9" stroke="#1c1c1c" stroke-width="1.7"/><line x1="68.05" y1="238.9" x2="276.95" y2="238.9" stroke="#1c1c1c" stroke-width="1.7"/><line x1="62.9" y1="238.9" x2="68.9" y2="238.9" stroke="#1c1c1c" stroke-width="1.7"/><text x="61.4" y="242.86" text-anchor="end">0</text><line x1="65.9" y1="218.31" x2="68.9" y2="218.31" stroke="#1c1c1c" stroke-width="1.7"/><line x1="62.9" y1="197.72" x2="68.9" y2="197.72" stroke="#1c1c1c" stroke-width="1.7"/><text x="61.4" y="201.68" text-anchor="end">200</text><line x1="65.9" y1="177.13" x2="68.9" y2="177.13" stroke="#1c1c1c" stroke-width="1.7"/><line x1="62.9" y1="156.54" x2="68.9" y2="156.54" stroke="#1c1c1c" stroke-width="1.7"/><text x="61.4" y="160.5" text-anchor="end">400</text><line x1="65.9" y1="135.95" x2="68.9" y2="135.95" stroke="#1c1c1c" stroke-width="1.7"/><line x1="62.9" y1="115.36" x2="68.9" y2="115.36" stroke="#1c1c1c" stroke-width="1.7"/><text x="61.4" y="119.32" text-anchor="end">600</text><line x1="65.9" y1="94.77" x2="68.9" y2="94.77" stroke="#1c1c1c" stroke-width="1.7"/><line x1="62.9" y1="74.18" x2="68.9" y2="74.18" stroke="#1c1c1c" stroke-width="1.7"/><text x="61.4" y="78.14" text-anchor="end">800</text><line x1="65.9" y1="53.59" x2="68.9" y2="53.59" stroke="#1c1c1c" stroke-width="1.7"/><line x1="62.9" y1="33" x2="68.9" y2="33" stroke="#1c1c1c" stroke-width="1.7"/><text x="61.4" y="36.96" text-anchor="end">1000</text><line x1="276.1" y1="238.9" x2="282.1" y2="238.9" stroke="#1c1c1c" stroke-width="1.7"/><text x="285.7" y="242.86" text-anchor="start">0</text><line x1="276.1" y1="221.74" x2="279.1" y2="221.74" stroke="#1c1c1c" stroke-width="1.7"/><line x1="276.1" y1="204.58" x2="282.1" y2="204.58" stroke="#1c1c1c" stroke-width="1.7"/><text x="285.7" y="208.54" text-anchor="start">20</text><line x1="276.1" y1="187.43" x2="279.1" y2="187.43" stroke="#1c1c1c" stroke-width="1.7"/><line x1="276.1" y1="170.27" x2="282.1" y2="170.27" stroke="#1c1c1c" stroke-width="1.7"/><text x="285.7" y="174.23" text-anchor="start">40</text><line x1="276.1" y1="153.11" x2="279.1" y2="153.11" stroke="#1c1c1c" stroke-width="1.7"/><line x1="276.1" y1="135.95" x2="282.1" y2="135.95" stroke="#1c1c1c" stroke-width="1.7"/><text x="285.7" y="139.91" text-anchor="start">60</text><line x1="276.1" y1="118.79" x2="279.1" y2="118.79" stroke="#1c1c1c" stroke-width="1.7"/><line x1="276.1" y1="101.63" x2="282.1" y2="101.63" stroke="#1c1c1c" stroke-width="1.7"/><text x="285.7" y="105.59" text-anchor="start">80</text><line x1="276.1" y1="84.47" x2="279.1" y2="84.47" stroke="#1c1c1c" stroke-width="1.7"/><line x1="276.1" y1="67.32" x2="282.1" y2="67.32" stroke="#1c1c1c" stroke-width="1.7"/><text x="285.7" y="71.28" text-anchor="start">100</text><line x1="276.1" y1="50.16" x2="279.1" y2="50.16" stroke="#1c1c1c" stroke-width="1.7"/><line x1="276.1" y1="33" x2="282.1" y2="33" stroke="#1c1c1c" stroke-width="1.7"/><text x="285.7" y="36.96" text-anchor="start">120</text><line x1="68.9" y1="238.9" x2="68.9" y2="244.9" stroke="#1c1c1c" stroke-width="1.7"/><text x="68.9" y="258.2" text-anchor="middle">0</text><line x1="79.26" y1="238.9" x2="79.26" y2="241.9" stroke="#1c1c1c" stroke-width="1.7"/><line x1="89.62" y1="238.9" x2="89.62" y2="241.9" stroke="#1c1c1c" stroke-width="1.7"/><line x1="99.98" y1="238.9" x2="99.98" y2="241.9" stroke="#1c1c1c" stroke-width="1.7"/><line x1="110.34" y1="238.9" x2="110.34" y2="241.9" stroke="#1c1c1c" stroke-width="1.7"/><line x1="120.7" y1="238.9" x2="120.7" y2="244.9" stroke="#1c1c1c" stroke-width="1.7"/><text x="120.7" y="258.2" text-anchor="middle">100</text><line x1="131.06" y1="238.9" x2="131.06" y2="241.9" stroke="#1c1c1c" stroke-width="1.7"/><line x1="141.42" y1="238.9" x2="141.42" y2="241.9" stroke="#1c1c1c" stroke-width="1.7"/><line x1="151.78" y1="238.9" x2="151.78" y2="241.9" stroke="#1c1c1c" stroke-width="1.7"/><line x1="162.14" y1="238.9" x2="162.14" y2="241.9" stroke="#1c1c1c" stroke-width="1.7"/><line x1="172.5" y1="238.9" x2="172.5" y2="244.9" stroke="#1c1c1c" stroke-width="1.7"/><text x="172.5" y="258.2" text-anchor="middle">200</text><line x1="182.86" y1="238.9" x2="182.86" y2="241.9" stroke="#1c1c1c" stroke-width="1.7"/><line x1="193.22" y1="238.9" x2="193.22" y2="241.9" stroke="#1c1c1c" stroke-width="1.7"/><line x1="203.58" y1="238.9" x2="203.58" y2="241.9" stroke="#1c1c1c" stroke-width="1.7"/><line x1="213.94" y1="238.9" x2="213.94" y2="241.9" stroke="#1c1c1c" stroke-width="1.7"/><line x1="224.3" y1="238.9" x2="224.3" y2="244.9" stroke="#1c1c1c" stroke-width="1.7"/><text x="224.3" y="258.2" text-anchor="middle">300</text><line x1="234.66" y1="238.9" x2="234.66" y2="241.9" stroke="#1c1c1c" stroke-width="1.7"/><line x1="245.02" y1="238.9" x2="245.02" y2="241.9" stroke="#1c1c1c" stroke-width="1.7"/><line x1="255.38" y1="238.9" x2="255.38" y2="241.9" stroke="#1c1c1c" stroke-width="1.7"/><line x1="265.74" y1="238.9" x2="265.74" y2="241.9" stroke="#1c1c1c" stroke-width="1.7"/><line x1="276.1" y1="238.9" x2="276.1" y2="244.9" stroke="#1c1c1c" stroke-width="1.7"/><text x="276.1" y="258.2" text-anchor="middle">400</text></g>
<g font-size="12" fill="#262626"><line x1="422.7" y1="32.85" x2="422.7" y2="247.4" stroke="#1c1c1c" stroke-width="1.7"/><line x1="630.9" y1="32.85" x2="630.9" y2="247.4" stroke="#1c1c1c" stroke-width="1.7"/><line x1="421.85" y1="241.4" x2="631.75" y2="241.4" stroke="#1c1c1c" stroke-width="1.7"/><line x1="416.7" y1="241.4" x2="422.7" y2="241.4" stroke="#1c1c1c" stroke-width="1.7"/><text x="415.2" y="245.72" text-anchor="end">0</text><line x1="419.7" y1="220.63" x2="422.7" y2="220.63" stroke="#1c1c1c" stroke-width="1.7"/><line x1="416.7" y1="199.86" x2="422.7" y2="199.86" stroke="#1c1c1c" stroke-width="1.7"/><text x="415.2" y="204.18" text-anchor="end">200</text><line x1="419.7" y1="179.09" x2="422.7" y2="179.09" stroke="#1c1c1c" stroke-width="1.7"/><line x1="416.7" y1="158.32" x2="422.7" y2="158.32" stroke="#1c1c1c" stroke-width="1.7"/><text x="415.2" y="162.64" text-anchor="end">400</text><line x1="419.7" y1="137.55" x2="422.7" y2="137.55" stroke="#1c1c1c" stroke-width="1.7"/><line x1="416.7" y1="116.78" x2="422.7" y2="116.78" stroke="#1c1c1c" stroke-width="1.7"/><text x="415.2" y="121.1" text-anchor="end">600</text><line x1="419.7" y1="96.01" x2="422.7" y2="96.01" stroke="#1c1c1c" stroke-width="1.7"/><line x1="416.7" y1="75.24" x2="422.7" y2="75.24" stroke="#1c1c1c" stroke-width="1.7"/><text x="415.2" y="79.56" text-anchor="end">800</text><line x1="419.7" y1="54.47" x2="422.7" y2="54.47" stroke="#1c1c1c" stroke-width="1.7"/><line x1="416.7" y1="33.7" x2="422.7" y2="33.7" stroke="#1c1c1c" stroke-width="1.7"/><text x="415.2" y="38.02" text-anchor="end">1000</text><line x1="630.9" y1="241.4" x2="636.9" y2="241.4" stroke="#1c1c1c" stroke-width="1.7"/><text x="640.5" y="245.72" text-anchor="start">0</text><line x1="630.9" y1="224.09" x2="633.9" y2="224.09" stroke="#1c1c1c" stroke-width="1.7"/><line x1="630.9" y1="206.78" x2="636.9" y2="206.78" stroke="#1c1c1c" stroke-width="1.7"/><text x="640.5" y="211.1" text-anchor="start">20</text><line x1="630.9" y1="189.48" x2="633.9" y2="189.48" stroke="#1c1c1c" stroke-width="1.7"/><line x1="630.9" y1="172.17" x2="636.9" y2="172.17" stroke="#1c1c1c" stroke-width="1.7"/><text x="640.5" y="176.49" text-anchor="start">40</text><line x1="630.9" y1="154.86" x2="633.9" y2="154.86" stroke="#1c1c1c" stroke-width="1.7"/><line x1="630.9" y1="137.55" x2="636.9" y2="137.55" stroke="#1c1c1c" stroke-width="1.7"/><text x="640.5" y="141.87" text-anchor="start">60</text><line x1="630.9" y1="120.24" x2="633.9" y2="120.24" stroke="#1c1c1c" stroke-width="1.7"/><line x1="630.9" y1="102.93" x2="636.9" y2="102.93" stroke="#1c1c1c" stroke-width="1.7"/><text x="640.5" y="107.25" text-anchor="start">80</text><line x1="630.9" y1="85.62" x2="633.9" y2="85.62" stroke="#1c1c1c" stroke-width="1.7"/><line x1="630.9" y1="68.32" x2="636.9" y2="68.32" stroke="#1c1c1c" stroke-width="1.7"/><text x="640.5" y="72.64" text-anchor="start">100</text><line x1="630.9" y1="51.01" x2="633.9" y2="51.01" stroke="#1c1c1c" stroke-width="1.7"/><line x1="630.9" y1="33.7" x2="636.9" y2="33.7" stroke="#1c1c1c" stroke-width="1.7"/><text x="640.5" y="38.02" text-anchor="start">120</text><line x1="422.7" y1="241.4" x2="422.7" y2="247.4" stroke="#1c1c1c" stroke-width="1.7"/><text x="422.7" y="260.7" text-anchor="middle">0</text><line x1="433.11" y1="241.4" x2="433.11" y2="244.4" stroke="#1c1c1c" stroke-width="1.7"/><line x1="443.52" y1="241.4" x2="443.52" y2="244.4" stroke="#1c1c1c" stroke-width="1.7"/><line x1="453.93" y1="241.4" x2="453.93" y2="244.4" stroke="#1c1c1c" stroke-width="1.7"/><line x1="464.34" y1="241.4" x2="464.34" y2="244.4" stroke="#1c1c1c" stroke-width="1.7"/><line x1="474.75" y1="241.4" x2="474.75" y2="247.4" stroke="#1c1c1c" stroke-width="1.7"/><text x="474.75" y="260.7" text-anchor="middle">100</text><line x1="485.16" y1="241.4" x2="485.16" y2="244.4" stroke="#1c1c1c" stroke-width="1.7"/><line x1="495.57" y1="241.4" x2="495.57" y2="244.4" stroke="#1c1c1c" stroke-width="1.7"/><line x1="505.98" y1="241.4" x2="505.98" y2="244.4" stroke="#1c1c1c" stroke-width="1.7"/><line x1="516.39" y1="241.4" x2="516.39" y2="244.4" stroke="#1c1c1c" stroke-width="1.7"/><line x1="526.8" y1="241.4" x2="526.8" y2="247.4" stroke="#1c1c1c" stroke-width="1.7"/><text x="526.8" y="260.7" text-anchor="middle">200</text><line x1="537.21" y1="241.4" x2="537.21" y2="244.4" stroke="#1c1c1c" stroke-width="1.7"/><line x1="547.62" y1="241.4" x2="547.62" y2="244.4" stroke="#1c1c1c" stroke-width="1.7"/><line x1="558.03" y1="241.4" x2="558.03" y2="244.4" stroke="#1c1c1c" stroke-width="1.7"/><line x1="568.44" y1="241.4" x2="568.44" y2="244.4" stroke="#1c1c1c" stroke-width="1.7"/><line x1="578.85" y1="241.4" x2="578.85" y2="247.4" stroke="#1c1c1c" stroke-width="1.7"/><text x="578.85" y="260.7" text-anchor="middle">300</text><line x1="589.26" y1="241.4" x2="589.26" y2="244.4" stroke="#1c1c1c" stroke-width="1.7"/><line x1="599.67" y1="241.4" x2="599.67" y2="244.4" stroke="#1c1c1c" stroke-width="1.7"/><line x1="610.08" y1="241.4" x2="610.08" y2="244.4" stroke="#1c1c1c" stroke-width="1.7"/><line x1="620.49" y1="241.4" x2="620.49" y2="244.4" stroke="#1c1c1c" stroke-width="1.7"/><line x1="630.9" y1="241.4" x2="630.9" y2="247.4" stroke="#1c1c1c" stroke-width="1.7"/><text x="630.9" y="260.7" text-anchor="middle">400</text></g>
<text x="42.5" y="12.4" font-weight="bold" font-size="14.5" fill="#111">Polarization and power curves (day 4)</text>
<text x="391.5" y="12.3" font-weight="bold" font-size="14.62" fill="#111">Polarization and power curves (day 36)</text>
<text x="1.5" y="274" font-weight="bold" font-size="16.8" fill="#111">a)</text>
<text x="356.3" y="274.6" font-weight="bold" font-size="17.4" fill="#111">b)</text>
<text x="103.4" y="279.4" font-size="12.75" fill="#262626">Current density / mA m<tspan font-size="9" dx="0.3" dy="-5.2">-2</tspan></text>
<text x="460.7" y="280.1" font-size="12.75" fill="#262626">Current density / mA m<tspan font-size="9" dx="0.3" dy="-5.2">-2</tspan></text>
<text transform="translate(26.8,135.9) rotate(-90)" text-anchor="middle" font-size="12.55" fill="#262626">Cell Voltage / mV</text>
<text transform="translate(377.7,203.8) rotate(-90)" text-anchor="start" font-size="12.62" fill="#262626">Current density / mA m<tspan font-size="9" dx="0.3" dy="-5.2">-2</tspan></text>
<text transform="translate(314.3,69) rotate(90)" text-anchor="start" font-size="12.75" fill="#262626">Power density / mW m<tspan font-size="9" dx="0.3" dy="-5.2">-2</tspan></text>
<text transform="translate(670.2,69.3) rotate(90)" text-anchor="start" font-size="12.75" fill="#262626">Power density / mW m<tspan font-size="9" dx="0.3" dy="-5.2">-2</tspan></text>
<line x1="110.8" y1="38.1" x2="126.9" y2="38.1" stroke="#1414f0" stroke-width="2.4"/>
<text x="136.0" y="41.8" font-size="12.35" fill="#262626">Polarization curve SWW</text>
<line x1="110.8" y1="50.1" x2="126.9" y2="50.1" stroke="#a9c6f5" stroke-width="2.4"/>
<text x="136.0" y="53.8" font-size="12.35" fill="#262626">Power curve SWW</text>
<line x1="110.8" y1="65.6" x2="126.9" y2="65.6" stroke="#f0601e" stroke-width="2.4"/>
<text x="136.0" y="69.3" font-size="12.35" fill="#262626">Polarization Curve RWW</text>
<line x1="110.8" y1="77.6" x2="126.9" y2="77.6" stroke="#f2c69c" stroke-width="2.4"/>
<text x="136.0" y="81.4" font-size="12.35" fill="#262626">Power Curve RWW</text>
<line x1="463.0" y1="37.9" x2="478.9" y2="37.9" stroke="#1414f0" stroke-width="2.4"/>
<text x="488.3" y="41.8" font-size="12.38" fill="#262626">Polarization Curve SWW</text>
<line x1="463.0" y1="49.6" x2="478.9" y2="49.6" stroke="#a9c6f5" stroke-width="2.4"/>
<text x="488.3" y="53.0" font-size="12.38" fill="#262626">Power curve SWW</text>
<line x1="463.0" y1="64.4" x2="478.9" y2="64.4" stroke="#f0601e" stroke-width="2.4"/>
<text x="488.3" y="67.8" font-size="12.38" fill="#262626">Power Curve RWW</text>
<line x1="463.0" y1="75.6" x2="478.9" y2="75.6" stroke="#f2c69c" stroke-width="2.4"/>
<text x="488.3" y="78.8" font-size="12.38" fill="#262626">Polarization Curve RWW</text>
</svg>
</body></html>
